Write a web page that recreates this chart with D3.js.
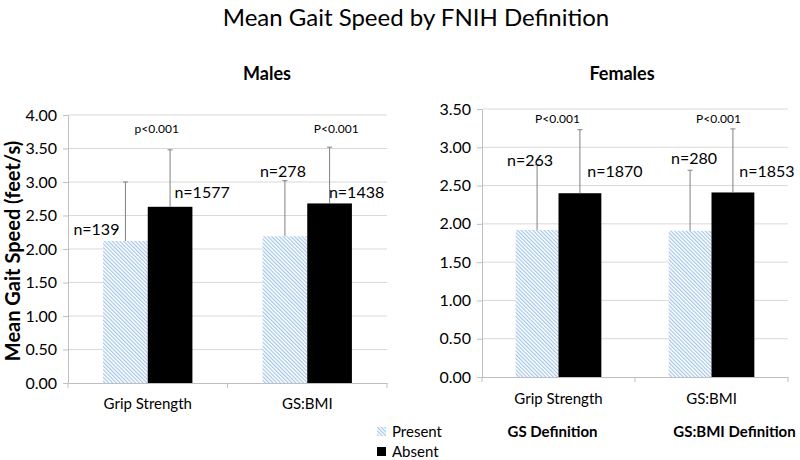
<!DOCTYPE html>
<html><head><meta charset="utf-8">
<script src="https://cdn.jsdelivr.net/npm/d3@7"></script>
<style>body{margin:0;background:#fff}svg{font-family:Lato,"Open Sans",sans-serif}</style>
</head><body>
<svg id="c" width="800" height="460"></svg>
<script>
// ---- data ----
const categories = ["Grip Strength", "GS:BMI"];
const series = ["Present", "Absent"];
const malesPresent = [2.12, 2.19];
const malesPresentSD = [0.88, 0.83];
const malesAbsent = [2.63, 2.68];
const malesAbsentSD = [0.85, 0.84];
const femalesPresent = [1.92, 1.91];
const femalesPresentSD = [0.85, 0.79];
const femalesAbsent = [2.40, 2.41];
const femalesAbsentSD = [0.83, 0.83];
const malesN = [["n=139", "n=1577"], ["n=278", "n=1438"]];
const femalesN = [["n=263", "n=1870"], ["n=280", "n=1853"]];
const malesP = ["p<0.001", "P<0.001"];
const femalesP = ["P<0.001", "P<0.001"];
const malesTicks = [0, 0.5, 1, 1.5, 2, 2.5, 3, 3.5, 4];
const femalesTicks = [0, 0.5, 1, 1.5, 2, 2.5, 3, 3.5];
const definitionLabels = ["GS Definition", "GS:BMI Definition"];

// ---- layout ----
const svg = d3.select("#c");
const defs = svg.append("defs");
const pat = defs.append("pattern").attr("id", "hatch").attr("patternUnits", "userSpaceOnUse")
  .attr("width", 2.7).attr("height", 2.7).attr("patternTransform", "rotate(-45)");
pat.append("rect").attr("width", 2.7).attr("height", 2.7).attr("fill", "#fff");
pat.append("line").attr("x1", 0.6).attr("y1", 0).attr("x2", 0.6).attr("y2", 2.7)
  .attr("stroke", "#9ec2e6").attr("stroke-width", 1.1);

svg.append("text").attr("x", 416).attr("y", 26).attr("text-anchor", "middle")
  .attr("font-size", 24).attr("fill", "#000").text("Mean Gait Speed by FNIH Definition");

svg.append("text").attr("transform", "translate(20,251) rotate(-90)").attr("text-anchor", "middle")
  .attr("font-size", 20).attr("font-weight", "bold").text("Mean Gait Speed (feet/s)");

function panel(cfg) {
  const x = d3.scaleBand().domain(categories).range([cfg.x0, cfg.x1]);
  const inner = d3.scaleBand().domain(series).range([x.bandwidth() * 0.22, x.bandwidth() * 0.78]);
  const y = d3.scaleLinear().domain([0, cfg.max]).range([cfg.yb, cfg.yt]);
  const g = svg.append("g");

  g.append("text").attr("x", cfg.titleX).attr("y", 80).attr("text-anchor", "middle")
    .attr("font-size", 18).attr("font-weight", "bold").text(cfg.title);

  // gridlines
  g.selectAll(".grid").data(cfg.ticks.filter(d => d > 0)).join("line")
    .attr("x1", cfg.x0).attr("x2", cfg.x1).attr("y1", d => y(d)).attr("y2", d => y(d))
    .attr("stroke", "#d9d9d9").attr("stroke-width", 1);

  // y axis
  const ya = g.append("g").attr("transform", `translate(${cfg.x0},0)`)
    .call(d3.axisLeft(y).tickValues(cfg.ticks).tickFormat(d3.format(".2f")).tickSize(5).tickSizeOuter(0));
  ya.select(".domain").attr("stroke", "#bfbfbf");
  ya.selectAll(".tick line").attr("stroke", "#bfbfbf");
  ya.selectAll(".tick text").attr("font-size", 16).attr("fill", "#000").attr("font-family", "Lato").attr("dx", -3);

  // x axis
  const xa = g.append("g").attr("transform", `translate(0,${cfg.yb})`)
    .call(d3.axisBottom(x).tickSize(0).tickSizeOuter(0));
  xa.select(".domain").attr("stroke", "#bfbfbf");
  xa.selectAll(".tick text").attr("font-size", 15).attr("fill", "#000").attr("font-family", "Lato").attr("dy", cfg.xLabelDy);
  // category boundary ticks
  g.selectAll(".bt").data([cfg.x0, x(categories[1]), cfg.x1]).join("line")
    .attr("x1", d => d).attr("x2", d => d).attr("y1", cfg.yb).attr("y2", cfg.yb + 5)
    .attr("stroke", "#bfbfbf");

  const rows = categories.map((c, i) => [
    {c, s: "Present", v: cfg.present[i], sd: cfg.presentSD[i], n: cfg.n[i][0], i},
    {c, s: "Absent", v: cfg.absent[i], sd: cfg.absentSD[i], n: cfg.n[i][1], i}
  ]).flat();

  g.selectAll(".bar").data(rows).join("rect")
    .attr("x", d => x(d.c) + inner(d.s)).attr("width", inner.bandwidth())
    .attr("y", d => y(d.v)).attr("height", d => y(0) - y(d.v))
    .attr("fill", d => d.s === "Present" ? "url(#hatch)" : "#000");

  // error bars
  const cx = d => x(d.c) + inner(d.s) + inner.bandwidth() / 2;
  g.selectAll(".eb").data(rows).join("line")
    .attr("x1", cx).attr("x2", cx).attr("y1", d => y(d.v)).attr("y2", d => y(d.v + d.sd))
    .attr("stroke", "#808080").attr("stroke-width", 1);
  g.selectAll(".ec").data(rows).join("line")
    .attr("x1", d => cx(d) - 2.5).attr("x2", d => cx(d) + 2.5)
    .attr("y1", d => y(d.v + d.sd)).attr("y2", d => y(d.v + d.sd))
    .attr("stroke", "#808080").attr("stroke-width", 1);

  // n labels
  g.selectAll(".nl").data(rows).join("text")
    .attr("x", (d, k) => cx(d) + cfg.nDx[k]).attr("y", (d, k) => y(cfg.nY[k]))
    .attr("dy", "0.35em").attr("text-anchor", "middle").attr("font-size", 16).text(d => d.n);

  // p labels
  g.selectAll(".pl").data(cfg.p).join("text")
    .attr("x", (d, i) => x(categories[i]) + x.bandwidth() / 2 + cfg.pDx[i]).attr("y", y(cfg.pY))
    .attr("dy", "0.35em").attr("text-anchor", "middle").attr("font-size", 12).text(d => d);
  return x;
}

panel({title: "Males", titleX: 267, x0: 68, x1: 387, yb: 383, yt: 115, max: 4, ticks: malesTicks,
  present: malesPresent, presentSD: malesPresentSD, absent: malesAbsent, absentSD: malesAbsentSD,
  n: malesN, p: malesP, nDx: [-29, 32, -2, 27], nY: [2.30, 2.85, 3.16, 2.85], pDx: [9, 29], pY: 3.79, xLabelDy: "1.55em"});

const xf = panel({title: "Females", titleX: 622, x0: 482, x1: 788, yb: 377, yt: 109, max: 3.5, ticks: femalesTicks,
  present: femalesPresent, presentSD: femalesPresentSD, absent: femalesAbsent, absentSD: femalesAbsentSD,
  n: femalesN, p: femalesP, nDx: [-7, 35, 4, 34], nY: [2.83, 2.68, 2.86, 2.68], pDx: [-1, 7], pY: 3.37, xLabelDy: "1.6em"});

// definition labels under female panel
svg.selectAll(".def").data(definitionLabels).join("text")
  .attr("x", (d, i) => xf(categories[i]) + xf.bandwidth() / 2 + [-6, 23][i]).attr("y", 437)
  .attr("text-anchor", "middle").attr("font-size", 15).attr("font-weight", "bold").text(d => d);

// legend
const lg = svg.append("g").attr("transform", "translate(377,0)");
series.forEach((s, i) => {
  lg.append("rect").attr("x", 0).attr("y", 427 + i * 20).attr("width", 9).attr("height", 9)
    .attr("fill", s === "Present" ? "url(#hatch)" : "#000");
  lg.append("text").attr("x", 15).attr("y", 437 + i * 20).attr("font-size", 15).text(s);
});
</script>
</body></html>
